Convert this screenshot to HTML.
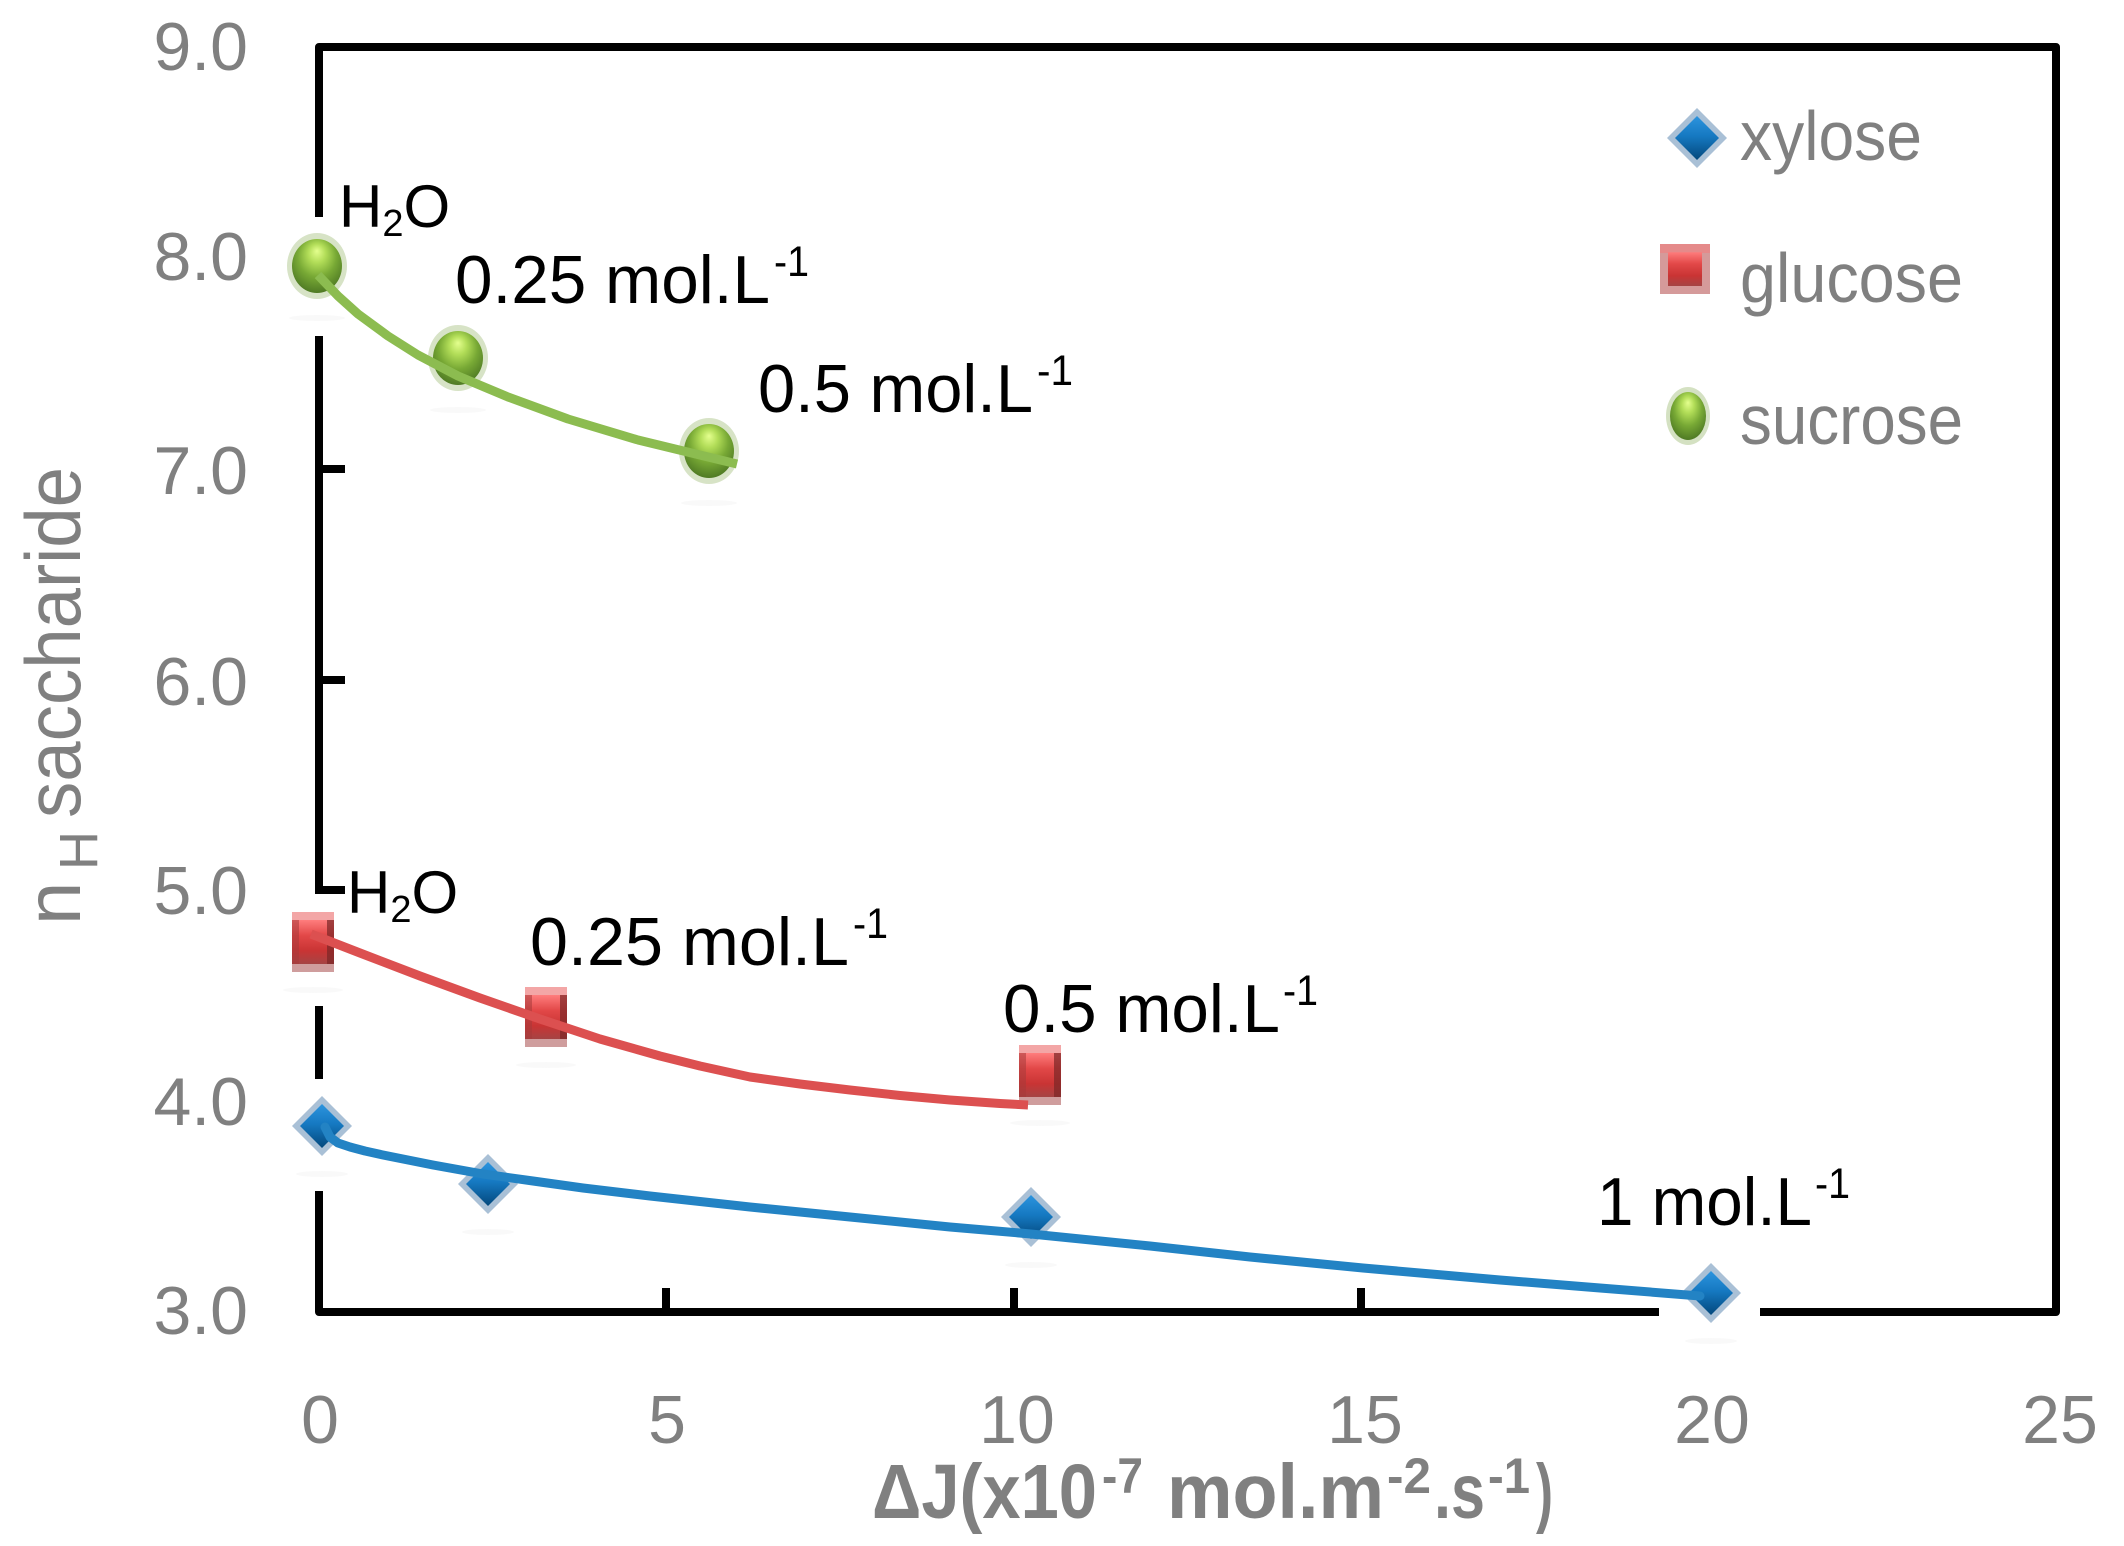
<!DOCTYPE html>
<html>
<head>
<meta charset="utf-8">
<style>
  html,body{margin:0;padding:0;background:#fff;}
  svg{display:block;}
  .sans{font-family:"Liberation Sans","DejaVu Sans",sans-serif;}
</style>
</head>
<body>
<svg width="2124" height="1546" viewBox="0 0 2124 1546" xmlns="http://www.w3.org/2000/svg" class="sans">
  <defs>
    <radialGradient id="gG" cx="0.5" cy="0.38" r="0.62" fx="0.5" fy="0.22">
      <stop offset="0" stop-color="#e4ff8e"/>
      <stop offset="0.28" stop-color="#b2dd58"/>
      <stop offset="0.62" stop-color="#78a935"/>
      <stop offset="1" stop-color="#4f7a24"/>
    </radialGradient>
    <linearGradient id="gR" x1="0" y1="0" x2="0" y2="1">
      <stop offset="0" stop-color="#ff7d7d"/>
      <stop offset="0.35" stop-color="#e24848"/>
      <stop offset="0.7" stop-color="#c93434"/>
      <stop offset="1" stop-color="#a54444"/>
    </linearGradient>
    <linearGradient id="gB" x1="0" y1="0" x2="0" y2="1">
      <stop offset="0" stop-color="#2c94de"/>
      <stop offset="0.45" stop-color="#1679c2"/>
      <stop offset="1" stop-color="#03487c"/>
    </linearGradient>
  </defs>

  <rect x="0" y="0" width="2124" height="1546" fill="#ffffff"/>

  <!-- Plot frame -->
  <rect x="319" y="47" width="1737" height="1265" fill="none" stroke="#000" stroke-width="8" stroke-linejoin="round"/>
  <!-- Y ticks (inward) -->
  <path d="M319,258H345 M319,469H345 M319,680H345 M319,890H345 M319,1101H345" stroke="#000" stroke-width="8" fill="none"/>
  <!-- X ticks (inward) -->
  <path d="M666,1312V1288 M1014,1312V1288 M1361,1312V1288 M1709,1312V1288" stroke="#000" stroke-width="8" fill="none"/>

  <!-- White halos masking axes behind markers -->
  <rect x="265" y="217" width="104" height="119" fill="#fff"/>
  <rect x="261" y="894" width="104" height="112" fill="#fff"/>
  <rect x="270" y="1079" width="104" height="112" fill="#fff"/>
  <rect x="1659" y="1244" width="101" height="100" fill="#fff"/>

  <!-- Y tick labels -->
  <g fill="#808080" font-size="68" text-anchor="end">
    <text x="248" y="70">9.0</text>
    <text x="248" y="280">8.0</text>
    <text x="248" y="494">7.0</text>
    <text x="248" y="705">6.0</text>
    <text x="248" y="914">5.0</text>
    <text x="248" y="1125">4.0</text>
    <text x="248" y="1334">3.0</text>
  </g>
  <!-- X tick labels -->
  <g fill="#808080" font-size="68" text-anchor="middle">
    <text x="320" y="1443">0</text>
    <text x="667" y="1443">5</text>
    <text x="1017" y="1443">10</text>
    <text x="1365" y="1443">15</text>
    <text x="1712" y="1443">20</text>
    <text x="2060" y="1443">25</text>
  </g>

  <!-- Marker shadows (very faint) -->
  <g fill="#eeeeee" opacity="0.35">
    <ellipse cx="317" cy="318" rx="28" ry="3"/>
    <ellipse cx="458" cy="410" rx="28" ry="3"/>
    <ellipse cx="709" cy="503" rx="28" ry="3"/>
    <ellipse cx="313" cy="990" rx="30" ry="3"/>
    <ellipse cx="546" cy="1065" rx="30" ry="3"/>
    <ellipse cx="1040" cy="1123" rx="30" ry="3"/>
    <ellipse cx="322" cy="1174" rx="26" ry="3"/>
    <ellipse cx="488" cy="1232" rx="26" ry="3"/>
    <ellipse cx="1031" cy="1265" rx="26" ry="3"/>
    <ellipse cx="1711" cy="1341" rx="26" ry="3"/>
  </g>

  <!-- Sucrose markers -->
  <g transform="translate(317,266)"><ellipse rx="30" ry="33" fill="#c9d9b3" opacity="0.75"/><ellipse rx="25" ry="27" fill="url(#gG)"/></g>
  <g transform="translate(458,358)"><ellipse rx="30" ry="33" fill="#c9d9b3" opacity="0.75"/><ellipse rx="25" ry="27" fill="url(#gG)"/></g>
  <g transform="translate(709,451)"><ellipse rx="30" ry="33" fill="#c9d9b3" opacity="0.75"/><ellipse rx="25" ry="27" fill="url(#gG)"/></g>

  <!-- Glucose markers -->
  <g transform="translate(313,942)">
    <rect x="-21" y="-30" width="42" height="9" fill="#f3a6a6"/>
    <rect x="-21" y="21" width="42" height="9" fill="#cf9d9d"/>
    <rect x="-21" y="-22" width="42" height="44" fill="url(#gR)"/>
    <rect x="-21" y="-22" width="7" height="44" fill="#a63a3a" opacity="0.55"/>
    <rect x="14" y="-22" width="7" height="44" fill="#7a2626" opacity="0.7"/>
  </g>
  <g transform="translate(546,1017)">
    <rect x="-21" y="-30" width="42" height="9" fill="#f3a6a6"/>
    <rect x="-21" y="21" width="42" height="9" fill="#cf9d9d"/>
    <rect x="-21" y="-22" width="42" height="44" fill="url(#gR)"/>
    <rect x="-21" y="-22" width="7" height="44" fill="#a63a3a" opacity="0.55"/>
    <rect x="14" y="-22" width="7" height="44" fill="#7a2626" opacity="0.7"/>
  </g>
  <g transform="translate(1040,1075)">
    <rect x="-21" y="-30" width="42" height="9" fill="#f3a6a6"/>
    <rect x="-21" y="21" width="42" height="9" fill="#cf9d9d"/>
    <rect x="-21" y="-22" width="42" height="44" fill="url(#gR)"/>
    <rect x="-21" y="-22" width="7" height="44" fill="#a63a3a" opacity="0.55"/>
    <rect x="14" y="-22" width="7" height="44" fill="#7a2626" opacity="0.7"/>
  </g>

  <!-- Xylose markers -->
  <g transform="translate(322,1126)"><polygon points="0,-30 30,0 0,30 -30,0" fill="#a9c0d6"/><polygon points="0,-22 22,0 0,22 -22,0" fill="url(#gB)"/></g>
  <g transform="translate(488,1184)"><polygon points="0,-30 30,0 0,30 -30,0" fill="#a9c0d6"/><polygon points="0,-22 22,0 0,22 -22,0" fill="url(#gB)"/></g>
  <g transform="translate(1031,1217)"><polygon points="0,-30 30,0 0,30 -30,0" fill="#a9c0d6"/><polygon points="0,-22 22,0 0,22 -22,0" fill="url(#gB)"/></g>
  <g transform="translate(1711,1293)"><polygon points="0,-30 30,0 0,30 -30,0" fill="#a9c0d6"/><polygon points="0,-22 22,0 0,22 -22,0" fill="url(#gB)"/></g>

  <!-- Trendlines -->
  <path d="M318,275 L338,296 L358,314 L388,336 L418,355 L458,376 L508,397 L568,419 L638,440 L737,464"
        fill="none" stroke="#8cbc50" stroke-width="9" stroke-linejoin="round" stroke-linecap="butt"/>
  <path d="M311,934 L360,953 L420,976 L480,998 L540,1019 L600,1039 L660,1056 L700,1066 L750,1077 L800,1084 L850,1090 L900,1095.5 L950,1100 L1000,1103.5 L1028,1105"
        fill="none" stroke="#dc5050" stroke-width="9" stroke-linejoin="round" stroke-linecap="butt"/>
  <path d="M325,1127 L330,1137 L338,1143 L350,1147 L365,1151 L383,1155 L408,1160 L433,1165 L483,1174 L533,1181 L583,1188 L650,1196 L750,1207 L850,1217 L950,1227 L1031,1234 L1150,1246 L1250,1257 L1363,1268 L1500,1280 L1600,1288 L1700,1296"
        fill="none" stroke="#2383c4" stroke-width="9" stroke-linejoin="round" stroke-linecap="round"/>

  <!-- Annotations -->
  <g fill="#000">
    <!-- sucrose -->
    <text x="339" y="227" font-size="60">H<tspan font-size="38" dy="9">2</tspan><tspan dy="-9">O</tspan></text>
    <text x="455" y="303" font-size="68" textLength="315" lengthAdjust="spacingAndGlyphs">0.25 mol.L</text>
    <text x="774" y="276" font-size="43" textLength="35" lengthAdjust="spacingAndGlyphs">-1</text>
    <text x="758" y="412" font-size="68" textLength="275" lengthAdjust="spacingAndGlyphs">0.5 mol.L</text>
    <text x="1037" y="385" font-size="43" textLength="36" lengthAdjust="spacingAndGlyphs">-1</text>
    <!-- glucose -->
    <text x="347" y="913" font-size="60">H<tspan font-size="38" dy="9">2</tspan><tspan dy="-9">O</tspan></text>
    <text x="530" y="965" font-size="68" textLength="319" lengthAdjust="spacingAndGlyphs">0.25 mol.L</text>
    <text x="853" y="938" font-size="43" textLength="35" lengthAdjust="spacingAndGlyphs">-1</text>
    <text x="1003" y="1032" font-size="68" textLength="277" lengthAdjust="spacingAndGlyphs">0.5 mol.L</text>
    <text x="1283" y="1005" font-size="43" textLength="35" lengthAdjust="spacingAndGlyphs">-1</text>
    <!-- xylose -->
    <text x="1597" y="1225" font-size="68" textLength="215" lengthAdjust="spacingAndGlyphs">1 mol.L</text>
    <text x="1815" y="1198" font-size="43" textLength="35" lengthAdjust="spacingAndGlyphs">-1</text>
  </g>

  <!-- Legend -->
  <g transform="translate(1697,138)"><polygon points="0,-30 30,0 0,30 -30,0" fill="#a9c0d6"/><polygon points="0,-22 22,0 0,22 -22,0" fill="url(#gB)"/></g>
  <g transform="translate(1685,269)">
    <rect x="-25" y="-25" width="50" height="50" fill="#d59a9a"/>
    <rect x="-17" y="-17" width="34" height="34" fill="url(#gR)"/>
    <rect x="-25" y="-25" width="50" height="9" fill="#f08080" opacity="0.6"/>
  </g>
  <g transform="translate(1688,416)"><ellipse rx="22" ry="29" fill="#c9d9b3" opacity="0.8"/><ellipse rx="18" ry="24" fill="url(#gG)"/></g>
  <g fill="#808080" font-size="70">
    <text x="1740" y="160" textLength="182" lengthAdjust="spacingAndGlyphs">xylose</text>
    <text x="1740" y="302" textLength="223" lengthAdjust="spacingAndGlyphs">glucose</text>
    <text x="1740" y="444" textLength="223" lengthAdjust="spacingAndGlyphs">sucrose</text>
  </g>

  <!-- Y axis title -->
  <g fill="#808080" transform="translate(80,925) rotate(-90)">
    <text x="0" y="0" font-size="78">n</text>
    <text x="55" y="17" font-size="54">H</text>
    <text x="107" y="0" font-size="78" textLength="351" lengthAdjust="spacingAndGlyphs">saccharide</text>
  </g>

  <!-- X axis title -->
  <g fill="#808080" font-weight="bold">
    <text x="872" y="1518" font-size="77" textLength="225" lengthAdjust="spacingAndGlyphs">ΔJ(x10</text>
    <text x="1102" y="1493" font-size="50" textLength="41" lengthAdjust="spacingAndGlyphs">-7</text>
    <text x="1167" y="1518" font-size="77" textLength="217" lengthAdjust="spacingAndGlyphs">mol.m</text>
    <text x="1387" y="1493" font-size="50" textLength="44" lengthAdjust="spacingAndGlyphs">-2</text>
    <text x="1434" y="1518" font-size="77" textLength="51" lengthAdjust="spacingAndGlyphs">.s</text>
    <text x="1488" y="1493" font-size="50" textLength="42" lengthAdjust="spacingAndGlyphs">-1</text>
    <text x="1536" y="1518" font-size="77" textLength="17" lengthAdjust="spacingAndGlyphs">)</text>
  </g>
</svg>
</body>
</html>
